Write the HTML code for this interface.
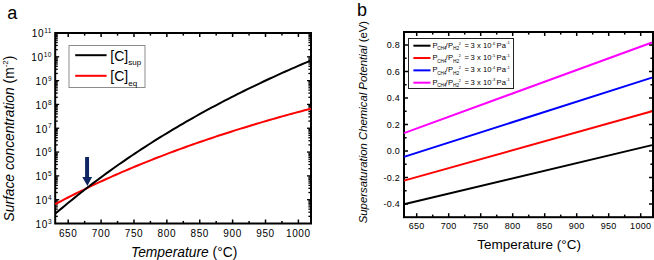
<!DOCTYPE html>
<html><head><meta charset="utf-8"><style>
html,body{margin:0;padding:0;background:#fff;width:654px;height:260px;overflow:hidden}
svg{display:block}
text{font-family:"Liberation Sans",sans-serif;fill:#000}
.t10{font-size:10px;letter-spacing:0.6px}
.t9{font-size:9px;letter-spacing:0.3px}
.sup{font-size:6.5px}
.leg{font-size:14px}
.sub{font-size:8px}
.lab{font-size:13.8px}
.labx{font-size:13.5px}
.labb{font-size:11.35px}
.it{font-style:italic}
.sup2{font-size:8px}
.panel{font-size:18px}
.l8{font-size:8px}
.s5{font-size:5px}
</style></head><body>
<svg width="654" height="260" viewBox="0 0 654 260">
<line x1="68.20" y1="223.50" x2="68.20" y2="219.50" stroke="#000" stroke-width="1.5"/>
<line x1="68.20" y1="33.00" x2="68.20" y2="37.00" stroke="#000" stroke-width="1.5"/>
<line x1="84.64" y1="223.50" x2="84.64" y2="220.90" stroke="#000" stroke-width="1.5"/>
<line x1="84.64" y1="33.00" x2="84.64" y2="35.60" stroke="#000" stroke-width="1.5"/>
<line x1="101.09" y1="223.50" x2="101.09" y2="219.50" stroke="#000" stroke-width="1.5"/>
<line x1="101.09" y1="33.00" x2="101.09" y2="37.00" stroke="#000" stroke-width="1.5"/>
<line x1="117.53" y1="223.50" x2="117.53" y2="220.90" stroke="#000" stroke-width="1.5"/>
<line x1="117.53" y1="33.00" x2="117.53" y2="35.60" stroke="#000" stroke-width="1.5"/>
<line x1="133.97" y1="223.50" x2="133.97" y2="219.50" stroke="#000" stroke-width="1.5"/>
<line x1="133.97" y1="33.00" x2="133.97" y2="37.00" stroke="#000" stroke-width="1.5"/>
<line x1="150.41" y1="223.50" x2="150.41" y2="220.90" stroke="#000" stroke-width="1.5"/>
<line x1="150.41" y1="33.00" x2="150.41" y2="35.60" stroke="#000" stroke-width="1.5"/>
<line x1="166.85" y1="223.50" x2="166.85" y2="219.50" stroke="#000" stroke-width="1.5"/>
<line x1="166.85" y1="33.00" x2="166.85" y2="37.00" stroke="#000" stroke-width="1.5"/>
<line x1="183.30" y1="223.50" x2="183.30" y2="220.90" stroke="#000" stroke-width="1.5"/>
<line x1="183.30" y1="33.00" x2="183.30" y2="35.60" stroke="#000" stroke-width="1.5"/>
<line x1="199.74" y1="223.50" x2="199.74" y2="219.50" stroke="#000" stroke-width="1.5"/>
<line x1="199.74" y1="33.00" x2="199.74" y2="37.00" stroke="#000" stroke-width="1.5"/>
<line x1="216.18" y1="223.50" x2="216.18" y2="220.90" stroke="#000" stroke-width="1.5"/>
<line x1="216.18" y1="33.00" x2="216.18" y2="35.60" stroke="#000" stroke-width="1.5"/>
<line x1="232.62" y1="223.50" x2="232.62" y2="219.50" stroke="#000" stroke-width="1.5"/>
<line x1="232.62" y1="33.00" x2="232.62" y2="37.00" stroke="#000" stroke-width="1.5"/>
<line x1="249.07" y1="223.50" x2="249.07" y2="220.90" stroke="#000" stroke-width="1.5"/>
<line x1="249.07" y1="33.00" x2="249.07" y2="35.60" stroke="#000" stroke-width="1.5"/>
<line x1="265.51" y1="223.50" x2="265.51" y2="219.50" stroke="#000" stroke-width="1.5"/>
<line x1="265.51" y1="33.00" x2="265.51" y2="37.00" stroke="#000" stroke-width="1.5"/>
<line x1="281.95" y1="223.50" x2="281.95" y2="220.90" stroke="#000" stroke-width="1.5"/>
<line x1="281.95" y1="33.00" x2="281.95" y2="35.60" stroke="#000" stroke-width="1.5"/>
<line x1="298.39" y1="223.50" x2="298.39" y2="219.50" stroke="#000" stroke-width="1.5"/>
<line x1="298.39" y1="33.00" x2="298.39" y2="37.00" stroke="#000" stroke-width="1.5"/>
<line x1="55.20" y1="216.33" x2="57.80" y2="216.33" stroke="#000" stroke-width="1.3"/>
<line x1="311.00" y1="216.33" x2="308.40" y2="216.33" stroke="#000" stroke-width="1.3"/>
<line x1="55.20" y1="212.14" x2="57.80" y2="212.14" stroke="#000" stroke-width="1.3"/>
<line x1="311.00" y1="212.14" x2="308.40" y2="212.14" stroke="#000" stroke-width="1.3"/>
<line x1="55.20" y1="209.16" x2="57.80" y2="209.16" stroke="#000" stroke-width="1.3"/>
<line x1="311.00" y1="209.16" x2="308.40" y2="209.16" stroke="#000" stroke-width="1.3"/>
<line x1="55.20" y1="206.86" x2="57.80" y2="206.86" stroke="#000" stroke-width="1.3"/>
<line x1="311.00" y1="206.86" x2="308.40" y2="206.86" stroke="#000" stroke-width="1.3"/>
<line x1="55.20" y1="204.97" x2="57.80" y2="204.97" stroke="#000" stroke-width="1.3"/>
<line x1="311.00" y1="204.97" x2="308.40" y2="204.97" stroke="#000" stroke-width="1.3"/>
<line x1="55.20" y1="203.38" x2="57.80" y2="203.38" stroke="#000" stroke-width="1.3"/>
<line x1="311.00" y1="203.38" x2="308.40" y2="203.38" stroke="#000" stroke-width="1.3"/>
<line x1="55.20" y1="202.00" x2="57.80" y2="202.00" stroke="#000" stroke-width="1.3"/>
<line x1="311.00" y1="202.00" x2="308.40" y2="202.00" stroke="#000" stroke-width="1.3"/>
<line x1="55.20" y1="200.78" x2="57.80" y2="200.78" stroke="#000" stroke-width="1.3"/>
<line x1="311.00" y1="200.78" x2="308.40" y2="200.78" stroke="#000" stroke-width="1.3"/>
<line x1="55.20" y1="199.69" x2="59.20" y2="199.69" stroke="#000" stroke-width="1.3"/>
<line x1="311.00" y1="199.69" x2="307.00" y2="199.69" stroke="#000" stroke-width="1.3"/>
<line x1="55.20" y1="192.52" x2="57.80" y2="192.52" stroke="#000" stroke-width="1.3"/>
<line x1="311.00" y1="192.52" x2="308.40" y2="192.52" stroke="#000" stroke-width="1.3"/>
<line x1="55.20" y1="188.33" x2="57.80" y2="188.33" stroke="#000" stroke-width="1.3"/>
<line x1="311.00" y1="188.33" x2="308.40" y2="188.33" stroke="#000" stroke-width="1.3"/>
<line x1="55.20" y1="185.35" x2="57.80" y2="185.35" stroke="#000" stroke-width="1.3"/>
<line x1="311.00" y1="185.35" x2="308.40" y2="185.35" stroke="#000" stroke-width="1.3"/>
<line x1="55.20" y1="183.04" x2="57.80" y2="183.04" stroke="#000" stroke-width="1.3"/>
<line x1="311.00" y1="183.04" x2="308.40" y2="183.04" stroke="#000" stroke-width="1.3"/>
<line x1="55.20" y1="181.16" x2="57.80" y2="181.16" stroke="#000" stroke-width="1.3"/>
<line x1="311.00" y1="181.16" x2="308.40" y2="181.16" stroke="#000" stroke-width="1.3"/>
<line x1="55.20" y1="179.56" x2="57.80" y2="179.56" stroke="#000" stroke-width="1.3"/>
<line x1="311.00" y1="179.56" x2="308.40" y2="179.56" stroke="#000" stroke-width="1.3"/>
<line x1="55.20" y1="178.18" x2="57.80" y2="178.18" stroke="#000" stroke-width="1.3"/>
<line x1="311.00" y1="178.18" x2="308.40" y2="178.18" stroke="#000" stroke-width="1.3"/>
<line x1="55.20" y1="176.96" x2="57.80" y2="176.96" stroke="#000" stroke-width="1.3"/>
<line x1="311.00" y1="176.96" x2="308.40" y2="176.96" stroke="#000" stroke-width="1.3"/>
<line x1="55.20" y1="175.88" x2="59.20" y2="175.88" stroke="#000" stroke-width="1.3"/>
<line x1="311.00" y1="175.88" x2="307.00" y2="175.88" stroke="#000" stroke-width="1.3"/>
<line x1="55.20" y1="168.71" x2="57.80" y2="168.71" stroke="#000" stroke-width="1.3"/>
<line x1="311.00" y1="168.71" x2="308.40" y2="168.71" stroke="#000" stroke-width="1.3"/>
<line x1="55.20" y1="164.51" x2="57.80" y2="164.51" stroke="#000" stroke-width="1.3"/>
<line x1="311.00" y1="164.51" x2="308.40" y2="164.51" stroke="#000" stroke-width="1.3"/>
<line x1="55.20" y1="161.54" x2="57.80" y2="161.54" stroke="#000" stroke-width="1.3"/>
<line x1="311.00" y1="161.54" x2="308.40" y2="161.54" stroke="#000" stroke-width="1.3"/>
<line x1="55.20" y1="159.23" x2="57.80" y2="159.23" stroke="#000" stroke-width="1.3"/>
<line x1="311.00" y1="159.23" x2="308.40" y2="159.23" stroke="#000" stroke-width="1.3"/>
<line x1="55.20" y1="157.35" x2="57.80" y2="157.35" stroke="#000" stroke-width="1.3"/>
<line x1="311.00" y1="157.35" x2="308.40" y2="157.35" stroke="#000" stroke-width="1.3"/>
<line x1="55.20" y1="155.75" x2="57.80" y2="155.75" stroke="#000" stroke-width="1.3"/>
<line x1="311.00" y1="155.75" x2="308.40" y2="155.75" stroke="#000" stroke-width="1.3"/>
<line x1="55.20" y1="154.37" x2="57.80" y2="154.37" stroke="#000" stroke-width="1.3"/>
<line x1="311.00" y1="154.37" x2="308.40" y2="154.37" stroke="#000" stroke-width="1.3"/>
<line x1="55.20" y1="153.15" x2="57.80" y2="153.15" stroke="#000" stroke-width="1.3"/>
<line x1="311.00" y1="153.15" x2="308.40" y2="153.15" stroke="#000" stroke-width="1.3"/>
<line x1="55.20" y1="152.06" x2="59.20" y2="152.06" stroke="#000" stroke-width="1.3"/>
<line x1="311.00" y1="152.06" x2="307.00" y2="152.06" stroke="#000" stroke-width="1.3"/>
<line x1="55.20" y1="144.89" x2="57.80" y2="144.89" stroke="#000" stroke-width="1.3"/>
<line x1="311.00" y1="144.89" x2="308.40" y2="144.89" stroke="#000" stroke-width="1.3"/>
<line x1="55.20" y1="140.70" x2="57.80" y2="140.70" stroke="#000" stroke-width="1.3"/>
<line x1="311.00" y1="140.70" x2="308.40" y2="140.70" stroke="#000" stroke-width="1.3"/>
<line x1="55.20" y1="137.73" x2="57.80" y2="137.73" stroke="#000" stroke-width="1.3"/>
<line x1="311.00" y1="137.73" x2="308.40" y2="137.73" stroke="#000" stroke-width="1.3"/>
<line x1="55.20" y1="135.42" x2="57.80" y2="135.42" stroke="#000" stroke-width="1.3"/>
<line x1="311.00" y1="135.42" x2="308.40" y2="135.42" stroke="#000" stroke-width="1.3"/>
<line x1="55.20" y1="133.53" x2="57.80" y2="133.53" stroke="#000" stroke-width="1.3"/>
<line x1="311.00" y1="133.53" x2="308.40" y2="133.53" stroke="#000" stroke-width="1.3"/>
<line x1="55.20" y1="131.94" x2="57.80" y2="131.94" stroke="#000" stroke-width="1.3"/>
<line x1="311.00" y1="131.94" x2="308.40" y2="131.94" stroke="#000" stroke-width="1.3"/>
<line x1="55.20" y1="130.56" x2="57.80" y2="130.56" stroke="#000" stroke-width="1.3"/>
<line x1="311.00" y1="130.56" x2="308.40" y2="130.56" stroke="#000" stroke-width="1.3"/>
<line x1="55.20" y1="129.34" x2="57.80" y2="129.34" stroke="#000" stroke-width="1.3"/>
<line x1="311.00" y1="129.34" x2="308.40" y2="129.34" stroke="#000" stroke-width="1.3"/>
<line x1="55.20" y1="128.25" x2="59.20" y2="128.25" stroke="#000" stroke-width="1.3"/>
<line x1="311.00" y1="128.25" x2="307.00" y2="128.25" stroke="#000" stroke-width="1.3"/>
<line x1="55.20" y1="121.08" x2="57.80" y2="121.08" stroke="#000" stroke-width="1.3"/>
<line x1="311.00" y1="121.08" x2="308.40" y2="121.08" stroke="#000" stroke-width="1.3"/>
<line x1="55.20" y1="116.89" x2="57.80" y2="116.89" stroke="#000" stroke-width="1.3"/>
<line x1="311.00" y1="116.89" x2="308.40" y2="116.89" stroke="#000" stroke-width="1.3"/>
<line x1="55.20" y1="113.91" x2="57.80" y2="113.91" stroke="#000" stroke-width="1.3"/>
<line x1="311.00" y1="113.91" x2="308.40" y2="113.91" stroke="#000" stroke-width="1.3"/>
<line x1="55.20" y1="111.61" x2="57.80" y2="111.61" stroke="#000" stroke-width="1.3"/>
<line x1="311.00" y1="111.61" x2="308.40" y2="111.61" stroke="#000" stroke-width="1.3"/>
<line x1="55.20" y1="109.72" x2="57.80" y2="109.72" stroke="#000" stroke-width="1.3"/>
<line x1="311.00" y1="109.72" x2="308.40" y2="109.72" stroke="#000" stroke-width="1.3"/>
<line x1="55.20" y1="108.13" x2="57.80" y2="108.13" stroke="#000" stroke-width="1.3"/>
<line x1="311.00" y1="108.13" x2="308.40" y2="108.13" stroke="#000" stroke-width="1.3"/>
<line x1="55.20" y1="106.75" x2="57.80" y2="106.75" stroke="#000" stroke-width="1.3"/>
<line x1="311.00" y1="106.75" x2="308.40" y2="106.75" stroke="#000" stroke-width="1.3"/>
<line x1="55.20" y1="105.53" x2="57.80" y2="105.53" stroke="#000" stroke-width="1.3"/>
<line x1="311.00" y1="105.53" x2="308.40" y2="105.53" stroke="#000" stroke-width="1.3"/>
<line x1="55.20" y1="104.44" x2="59.20" y2="104.44" stroke="#000" stroke-width="1.3"/>
<line x1="311.00" y1="104.44" x2="307.00" y2="104.44" stroke="#000" stroke-width="1.3"/>
<line x1="55.20" y1="97.27" x2="57.80" y2="97.27" stroke="#000" stroke-width="1.3"/>
<line x1="311.00" y1="97.27" x2="308.40" y2="97.27" stroke="#000" stroke-width="1.3"/>
<line x1="55.20" y1="93.08" x2="57.80" y2="93.08" stroke="#000" stroke-width="1.3"/>
<line x1="311.00" y1="93.08" x2="308.40" y2="93.08" stroke="#000" stroke-width="1.3"/>
<line x1="55.20" y1="90.10" x2="57.80" y2="90.10" stroke="#000" stroke-width="1.3"/>
<line x1="311.00" y1="90.10" x2="308.40" y2="90.10" stroke="#000" stroke-width="1.3"/>
<line x1="55.20" y1="87.79" x2="57.80" y2="87.79" stroke="#000" stroke-width="1.3"/>
<line x1="311.00" y1="87.79" x2="308.40" y2="87.79" stroke="#000" stroke-width="1.3"/>
<line x1="55.20" y1="85.91" x2="57.80" y2="85.91" stroke="#000" stroke-width="1.3"/>
<line x1="311.00" y1="85.91" x2="308.40" y2="85.91" stroke="#000" stroke-width="1.3"/>
<line x1="55.20" y1="84.31" x2="57.80" y2="84.31" stroke="#000" stroke-width="1.3"/>
<line x1="311.00" y1="84.31" x2="308.40" y2="84.31" stroke="#000" stroke-width="1.3"/>
<line x1="55.20" y1="82.93" x2="57.80" y2="82.93" stroke="#000" stroke-width="1.3"/>
<line x1="311.00" y1="82.93" x2="308.40" y2="82.93" stroke="#000" stroke-width="1.3"/>
<line x1="55.20" y1="81.71" x2="57.80" y2="81.71" stroke="#000" stroke-width="1.3"/>
<line x1="311.00" y1="81.71" x2="308.40" y2="81.71" stroke="#000" stroke-width="1.3"/>
<line x1="55.20" y1="80.62" x2="59.20" y2="80.62" stroke="#000" stroke-width="1.3"/>
<line x1="311.00" y1="80.62" x2="307.00" y2="80.62" stroke="#000" stroke-width="1.3"/>
<line x1="55.20" y1="73.46" x2="57.80" y2="73.46" stroke="#000" stroke-width="1.3"/>
<line x1="311.00" y1="73.46" x2="308.40" y2="73.46" stroke="#000" stroke-width="1.3"/>
<line x1="55.20" y1="69.26" x2="57.80" y2="69.26" stroke="#000" stroke-width="1.3"/>
<line x1="311.00" y1="69.26" x2="308.40" y2="69.26" stroke="#000" stroke-width="1.3"/>
<line x1="55.20" y1="66.29" x2="57.80" y2="66.29" stroke="#000" stroke-width="1.3"/>
<line x1="311.00" y1="66.29" x2="308.40" y2="66.29" stroke="#000" stroke-width="1.3"/>
<line x1="55.20" y1="63.98" x2="57.80" y2="63.98" stroke="#000" stroke-width="1.3"/>
<line x1="311.00" y1="63.98" x2="308.40" y2="63.98" stroke="#000" stroke-width="1.3"/>
<line x1="55.20" y1="62.10" x2="57.80" y2="62.10" stroke="#000" stroke-width="1.3"/>
<line x1="311.00" y1="62.10" x2="308.40" y2="62.10" stroke="#000" stroke-width="1.3"/>
<line x1="55.20" y1="60.50" x2="57.80" y2="60.50" stroke="#000" stroke-width="1.3"/>
<line x1="311.00" y1="60.50" x2="308.40" y2="60.50" stroke="#000" stroke-width="1.3"/>
<line x1="55.20" y1="59.12" x2="57.80" y2="59.12" stroke="#000" stroke-width="1.3"/>
<line x1="311.00" y1="59.12" x2="308.40" y2="59.12" stroke="#000" stroke-width="1.3"/>
<line x1="55.20" y1="57.90" x2="57.80" y2="57.90" stroke="#000" stroke-width="1.3"/>
<line x1="311.00" y1="57.90" x2="308.40" y2="57.90" stroke="#000" stroke-width="1.3"/>
<line x1="55.20" y1="56.81" x2="59.20" y2="56.81" stroke="#000" stroke-width="1.3"/>
<line x1="311.00" y1="56.81" x2="307.00" y2="56.81" stroke="#000" stroke-width="1.3"/>
<line x1="55.20" y1="49.64" x2="57.80" y2="49.64" stroke="#000" stroke-width="1.3"/>
<line x1="311.00" y1="49.64" x2="308.40" y2="49.64" stroke="#000" stroke-width="1.3"/>
<line x1="55.20" y1="45.45" x2="57.80" y2="45.45" stroke="#000" stroke-width="1.3"/>
<line x1="311.00" y1="45.45" x2="308.40" y2="45.45" stroke="#000" stroke-width="1.3"/>
<line x1="55.20" y1="42.48" x2="57.80" y2="42.48" stroke="#000" stroke-width="1.3"/>
<line x1="311.00" y1="42.48" x2="308.40" y2="42.48" stroke="#000" stroke-width="1.3"/>
<line x1="55.20" y1="40.17" x2="57.80" y2="40.17" stroke="#000" stroke-width="1.3"/>
<line x1="311.00" y1="40.17" x2="308.40" y2="40.17" stroke="#000" stroke-width="1.3"/>
<line x1="55.20" y1="38.28" x2="57.80" y2="38.28" stroke="#000" stroke-width="1.3"/>
<line x1="311.00" y1="38.28" x2="308.40" y2="38.28" stroke="#000" stroke-width="1.3"/>
<line x1="55.20" y1="36.69" x2="57.80" y2="36.69" stroke="#000" stroke-width="1.3"/>
<line x1="311.00" y1="36.69" x2="308.40" y2="36.69" stroke="#000" stroke-width="1.3"/>
<line x1="55.20" y1="35.31" x2="57.80" y2="35.31" stroke="#000" stroke-width="1.3"/>
<line x1="311.00" y1="35.31" x2="308.40" y2="35.31" stroke="#000" stroke-width="1.3"/>
<line x1="55.20" y1="34.09" x2="57.80" y2="34.09" stroke="#000" stroke-width="1.3"/>
<line x1="311.00" y1="34.09" x2="308.40" y2="34.09" stroke="#000" stroke-width="1.3"/>
<rect x="55.2" y="33.0" width="255.8" height="190.5" fill="none" stroke="#000" stroke-width="2"/>
<polyline points="55.20,204.20 58.40,202.50 61.60,200.81 64.79,199.15 67.99,197.50 71.19,195.88 74.39,194.26 77.58,192.67 80.78,191.09 83.98,189.53 87.18,187.98 90.37,186.45 93.57,184.93 96.77,183.43 99.97,181.95 103.16,180.48 106.36,179.02 109.56,177.58 112.76,176.15 115.95,174.74 119.15,173.34 122.35,171.95 125.55,170.58 128.74,169.22 131.94,167.88 135.14,166.54 138.34,165.22 141.53,163.91 144.73,162.62 147.93,161.33 151.12,160.06 154.32,158.80 157.52,157.55 160.72,156.31 163.92,155.08 167.11,153.87 170.31,152.66 173.51,151.47 176.70,150.29 179.90,149.11 183.10,147.95 186.30,146.80 189.50,145.66 192.69,144.53 195.89,143.40 199.09,142.29 202.29,141.19 205.48,140.10 208.68,139.01 211.88,137.94 215.07,136.87 218.27,135.82 221.47,134.77 224.67,133.73 227.87,132.70 231.06,131.68 234.26,130.66 237.46,129.66 240.66,128.66 243.85,127.67 247.05,126.69 250.25,125.72 253.44,124.76 256.64,123.80 259.84,122.85 263.04,121.91 266.24,120.97 269.43,120.05 272.63,119.13 275.83,118.22 279.02,117.31 282.22,116.41 285.42,115.52 288.62,114.64 291.81,113.76 295.01,112.89 298.21,112.03 301.41,111.17 304.61,110.32 307.80,109.47 311.00,108.63" fill="none" stroke="#ff0000" stroke-width="2"/>
<polyline points="55.20,213.78 58.40,211.05 61.60,208.36 64.79,205.69 67.99,203.05 71.19,200.43 74.39,197.85 77.58,195.29 80.78,192.75 83.98,190.25 87.18,187.77 90.37,185.31 93.57,182.88 96.77,180.47 99.97,178.09 103.16,175.73 106.36,173.40 109.56,171.08 112.76,168.79 115.95,166.53 119.15,164.28 122.35,162.06 125.55,159.85 128.74,157.67 131.94,155.51 135.14,153.37 138.34,151.25 141.53,149.15 144.73,147.07 147.93,145.01 151.12,142.97 154.32,140.95 157.52,138.94 160.72,136.96 163.92,134.99 167.11,133.04 170.31,131.11 173.51,129.19 176.70,127.29 179.90,125.41 183.10,123.55 186.30,121.70 189.50,119.87 192.69,118.05 195.89,116.25 199.09,114.47 202.29,112.70 205.48,110.95 208.68,109.21 211.88,107.48 215.07,105.77 218.27,104.08 221.47,102.40 224.67,100.73 227.87,99.08 231.06,97.44 234.26,95.82 237.46,94.20 240.66,92.60 243.85,91.02 247.05,89.45 250.25,87.89 253.44,86.34 256.64,84.80 259.84,83.28 263.04,81.77 266.24,80.27 269.43,78.78 272.63,77.31 275.83,75.85 279.02,74.39 282.22,72.95 285.42,71.52 288.62,70.11 291.81,68.70 295.01,67.30 298.21,65.91 301.41,64.54 304.61,63.17 307.80,61.82 311.00,60.47" fill="none" stroke="#000000" stroke-width="2"/>
<text x="68.20" y="237" class="t10" text-anchor="middle">650</text>
<text x="101.09" y="237" class="t10" text-anchor="middle">700</text>
<text x="133.97" y="237" class="t10" text-anchor="middle">750</text>
<text x="166.85" y="237" class="t10" text-anchor="middle">800</text>
<text x="199.74" y="237" class="t10" text-anchor="middle">850</text>
<text x="232.62" y="237" class="t10" text-anchor="middle">900</text>
<text x="265.51" y="237" class="t10" text-anchor="middle">950</text>
<text x="298.39" y="237" class="t10" text-anchor="middle">1000</text>
<text x="52.1" y="227.80" class="t10" text-anchor="end">10<tspan class="sup" dy="-4.2">3</tspan></text>
<text x="52.1" y="203.99" class="t10" text-anchor="end">10<tspan class="sup" dy="-4.2">4</tspan></text>
<text x="52.1" y="180.18" class="t10" text-anchor="end">10<tspan class="sup" dy="-4.2">5</tspan></text>
<text x="52.1" y="156.36" class="t10" text-anchor="end">10<tspan class="sup" dy="-4.2">6</tspan></text>
<text x="52.1" y="132.55" class="t10" text-anchor="end">10<tspan class="sup" dy="-4.2">7</tspan></text>
<text x="52.1" y="108.74" class="t10" text-anchor="end">10<tspan class="sup" dy="-4.2">8</tspan></text>
<text x="52.1" y="84.92" class="t10" text-anchor="end">10<tspan class="sup" dy="-4.2">9</tspan></text>
<text x="52.1" y="61.11" class="t10" text-anchor="end">10<tspan class="sup" dy="-4.2">10</tspan></text>
<text x="52.1" y="37.30" class="t10" text-anchor="end">10<tspan class="sup" dy="-4.2">11</tspan></text>
<rect x="69" y="45.5" width="76" height="42" fill="#fff" stroke="#8c8c8c" stroke-width="1"/>
<line x1="75.20" y1="55.20" x2="106.60" y2="55.20" stroke="#000" stroke-width="2"/>
<line x1="75.20" y1="75.80" x2="106.60" y2="75.80" stroke="#ff0000" stroke-width="2"/>
<text x="110.3" y="60.7" class="leg">[C]<tspan class="sub" dy="4.4">sup</tspan></text>
<text x="110.3" y="81.0" class="leg">[C]<tspan class="sub" dy="4.6">eq</tspan></text>
<path d="M85.1,156.9 H89.05 V176.9 H92.1 L87.4,186 L82.3,176.9 H85.1 Z" fill="#0f2663"/>
<text x="131" y="256.6" class="lab"><tspan class="it">Temperature </tspan>(°C)</text>
<text transform="translate(14,221.5) rotate(-90)" class="lab"><tspan class="it">Surface concentration </tspan>(m<tspan class="sup2" dy="-6">-2</tspan><tspan dy="6">)</tspan></text>
<text x="7.3" y="19.4" class="panel">a</text>
<line x1="416.70" y1="217.20" x2="416.70" y2="213.20" stroke="#000" stroke-width="1.5"/>
<line x1="416.70" y1="32.00" x2="416.70" y2="36.00" stroke="#000" stroke-width="1.5"/>
<line x1="432.70" y1="217.20" x2="432.70" y2="214.60" stroke="#000" stroke-width="1.5"/>
<line x1="432.70" y1="32.00" x2="432.70" y2="34.60" stroke="#000" stroke-width="1.5"/>
<line x1="448.70" y1="217.20" x2="448.70" y2="213.20" stroke="#000" stroke-width="1.5"/>
<line x1="448.70" y1="32.00" x2="448.70" y2="36.00" stroke="#000" stroke-width="1.5"/>
<line x1="464.70" y1="217.20" x2="464.70" y2="214.60" stroke="#000" stroke-width="1.5"/>
<line x1="464.70" y1="32.00" x2="464.70" y2="34.60" stroke="#000" stroke-width="1.5"/>
<line x1="480.70" y1="217.20" x2="480.70" y2="213.20" stroke="#000" stroke-width="1.5"/>
<line x1="480.70" y1="32.00" x2="480.70" y2="36.00" stroke="#000" stroke-width="1.5"/>
<line x1="496.70" y1="217.20" x2="496.70" y2="214.60" stroke="#000" stroke-width="1.5"/>
<line x1="496.70" y1="32.00" x2="496.70" y2="34.60" stroke="#000" stroke-width="1.5"/>
<line x1="512.70" y1="217.20" x2="512.70" y2="213.20" stroke="#000" stroke-width="1.5"/>
<line x1="512.70" y1="32.00" x2="512.70" y2="36.00" stroke="#000" stroke-width="1.5"/>
<line x1="528.70" y1="217.20" x2="528.70" y2="214.60" stroke="#000" stroke-width="1.5"/>
<line x1="528.70" y1="32.00" x2="528.70" y2="34.60" stroke="#000" stroke-width="1.5"/>
<line x1="544.70" y1="217.20" x2="544.70" y2="213.20" stroke="#000" stroke-width="1.5"/>
<line x1="544.70" y1="32.00" x2="544.70" y2="36.00" stroke="#000" stroke-width="1.5"/>
<line x1="560.70" y1="217.20" x2="560.70" y2="214.60" stroke="#000" stroke-width="1.5"/>
<line x1="560.70" y1="32.00" x2="560.70" y2="34.60" stroke="#000" stroke-width="1.5"/>
<line x1="576.70" y1="217.20" x2="576.70" y2="213.20" stroke="#000" stroke-width="1.5"/>
<line x1="576.70" y1="32.00" x2="576.70" y2="36.00" stroke="#000" stroke-width="1.5"/>
<line x1="592.70" y1="217.20" x2="592.70" y2="214.60" stroke="#000" stroke-width="1.5"/>
<line x1="592.70" y1="32.00" x2="592.70" y2="34.60" stroke="#000" stroke-width="1.5"/>
<line x1="608.70" y1="217.20" x2="608.70" y2="213.20" stroke="#000" stroke-width="1.5"/>
<line x1="608.70" y1="32.00" x2="608.70" y2="36.00" stroke="#000" stroke-width="1.5"/>
<line x1="624.70" y1="217.20" x2="624.70" y2="214.60" stroke="#000" stroke-width="1.5"/>
<line x1="624.70" y1="32.00" x2="624.70" y2="34.60" stroke="#000" stroke-width="1.5"/>
<line x1="640.70" y1="217.20" x2="640.70" y2="213.20" stroke="#000" stroke-width="1.5"/>
<line x1="640.70" y1="32.00" x2="640.70" y2="36.00" stroke="#000" stroke-width="1.5"/>
<line x1="404.00" y1="204.00" x2="408.00" y2="204.00" stroke="#000" stroke-width="1.5"/>
<line x1="653.00" y1="204.00" x2="649.00" y2="204.00" stroke="#000" stroke-width="1.5"/>
<line x1="404.00" y1="190.75" x2="406.60" y2="190.75" stroke="#000" stroke-width="1.5"/>
<line x1="653.00" y1="190.75" x2="650.40" y2="190.75" stroke="#000" stroke-width="1.5"/>
<line x1="404.00" y1="177.50" x2="408.00" y2="177.50" stroke="#000" stroke-width="1.5"/>
<line x1="653.00" y1="177.50" x2="649.00" y2="177.50" stroke="#000" stroke-width="1.5"/>
<line x1="404.00" y1="164.25" x2="406.60" y2="164.25" stroke="#000" stroke-width="1.5"/>
<line x1="653.00" y1="164.25" x2="650.40" y2="164.25" stroke="#000" stroke-width="1.5"/>
<line x1="404.00" y1="151.00" x2="408.00" y2="151.00" stroke="#000" stroke-width="1.5"/>
<line x1="653.00" y1="151.00" x2="649.00" y2="151.00" stroke="#000" stroke-width="1.5"/>
<line x1="404.00" y1="137.75" x2="406.60" y2="137.75" stroke="#000" stroke-width="1.5"/>
<line x1="653.00" y1="137.75" x2="650.40" y2="137.75" stroke="#000" stroke-width="1.5"/>
<line x1="404.00" y1="124.50" x2="408.00" y2="124.50" stroke="#000" stroke-width="1.5"/>
<line x1="653.00" y1="124.50" x2="649.00" y2="124.50" stroke="#000" stroke-width="1.5"/>
<line x1="404.00" y1="111.25" x2="406.60" y2="111.25" stroke="#000" stroke-width="1.5"/>
<line x1="653.00" y1="111.25" x2="650.40" y2="111.25" stroke="#000" stroke-width="1.5"/>
<line x1="404.00" y1="98.00" x2="408.00" y2="98.00" stroke="#000" stroke-width="1.5"/>
<line x1="653.00" y1="98.00" x2="649.00" y2="98.00" stroke="#000" stroke-width="1.5"/>
<line x1="404.00" y1="84.75" x2="406.60" y2="84.75" stroke="#000" stroke-width="1.5"/>
<line x1="653.00" y1="84.75" x2="650.40" y2="84.75" stroke="#000" stroke-width="1.5"/>
<line x1="404.00" y1="71.50" x2="408.00" y2="71.50" stroke="#000" stroke-width="1.5"/>
<line x1="653.00" y1="71.50" x2="649.00" y2="71.50" stroke="#000" stroke-width="1.5"/>
<line x1="404.00" y1="58.25" x2="406.60" y2="58.25" stroke="#000" stroke-width="1.5"/>
<line x1="653.00" y1="58.25" x2="650.40" y2="58.25" stroke="#000" stroke-width="1.5"/>
<line x1="404.00" y1="45.00" x2="408.00" y2="45.00" stroke="#000" stroke-width="1.5"/>
<line x1="653.00" y1="45.00" x2="649.00" y2="45.00" stroke="#000" stroke-width="1.5"/>
<rect x="404.0" y="32.0" width="249.0" height="185.2" fill="none" stroke="#000" stroke-width="2"/>
<line x1="404.00" y1="204.30" x2="652.00" y2="145.10" stroke="#000000" stroke-width="2"/>
<line x1="404.00" y1="180.60" x2="652.00" y2="111.20" stroke="#ff0000" stroke-width="2"/>
<line x1="404.00" y1="156.90" x2="652.00" y2="77.60" stroke="#0000ff" stroke-width="2"/>
<line x1="404.00" y1="133.10" x2="652.00" y2="42.50" stroke="#ff00ff" stroke-width="2"/>
<text x="416.70" y="229" class="t9" text-anchor="middle">650</text>
<text x="448.70" y="229" class="t9" text-anchor="middle">700</text>
<text x="480.70" y="229" class="t9" text-anchor="middle">750</text>
<text x="512.70" y="229" class="t9" text-anchor="middle">800</text>
<text x="544.70" y="229" class="t9" text-anchor="middle">850</text>
<text x="576.70" y="229" class="t9" text-anchor="middle">900</text>
<text x="608.70" y="229" class="t9" text-anchor="middle">950</text>
<text x="640.70" y="229" class="t9" text-anchor="middle">1000</text>
<text x="400.2" y="207.20" class="t9" text-anchor="end">-0.4</text>
<text x="400.2" y="180.70" class="t9" text-anchor="end">-0.2</text>
<text x="400.2" y="154.20" class="t9" text-anchor="end">0.0</text>
<text x="400.2" y="127.70" class="t9" text-anchor="end">0.2</text>
<text x="400.2" y="101.20" class="t9" text-anchor="end">0.4</text>
<text x="400.2" y="74.70" class="t9" text-anchor="end">0.6</text>
<text x="400.2" y="48.20" class="t9" text-anchor="end">0.8</text>
<rect x="408.5" y="38.5" width="105" height="50" fill="#fff" stroke="#222" stroke-width="1"/>
<line x1="413.40" y1="45.70" x2="430.50" y2="45.70" stroke="#000000" stroke-width="2"/>
<text x="432.40" y="47.70" style="font-size:7.6px">P</text>
<text x="437.20" y="50.30" style="font-size:4.6px">CH4</text>
<text x="445.40" y="47.70" style="font-size:7.6px">/</text>
<text x="447.90" y="47.70" style="font-size:7.6px">P</text>
<text x="452.90" y="50.30" style="font-size:4.9px">H2</text>
<text x="458.70" y="44.80" style="font-size:3.8px">2</text>
<text x="464.40" y="47.70" style="font-size:7.6px">=</text>
<text x="470.40" y="47.70" style="font-size:7.6px">3</text>
<text x="477.00" y="47.70" style="font-size:7.6px">x</text>
<text x="483.00" y="47.70" style="font-size:7.6px">10</text>
<text x="491.60" y="44.50" style="font-size:4.0px">-6</text>
<text x="496.60" y="47.70" style="font-size:7.6px">Pa</text>
<text x="506.20" y="44.40" style="font-size:4.0px">-1</text>
<line x1="413.40" y1="58.03" x2="430.50" y2="58.03" stroke="#ff0000" stroke-width="2"/>
<text x="432.40" y="60.03" style="font-size:7.6px">P</text>
<text x="437.20" y="62.63" style="font-size:4.6px">CH4</text>
<text x="445.40" y="60.03" style="font-size:7.6px">/</text>
<text x="447.90" y="60.03" style="font-size:7.6px">P</text>
<text x="452.90" y="62.63" style="font-size:4.9px">H2</text>
<text x="458.70" y="57.13" style="font-size:3.8px">2</text>
<text x="464.40" y="60.03" style="font-size:7.6px">=</text>
<text x="470.40" y="60.03" style="font-size:7.6px">3</text>
<text x="477.00" y="60.03" style="font-size:7.6px">x</text>
<text x="483.00" y="60.03" style="font-size:7.6px">10</text>
<text x="491.60" y="56.83" style="font-size:4.0px">-5</text>
<text x="496.60" y="60.03" style="font-size:7.6px">Pa</text>
<text x="506.20" y="56.73" style="font-size:4.0px">-1</text>
<line x1="413.40" y1="70.36" x2="430.50" y2="70.36" stroke="#0000ff" stroke-width="2"/>
<text x="432.40" y="72.36" style="font-size:7.6px">P</text>
<text x="437.20" y="74.96" style="font-size:4.6px">CH4</text>
<text x="445.40" y="72.36" style="font-size:7.6px">/</text>
<text x="447.90" y="72.36" style="font-size:7.6px">P</text>
<text x="452.90" y="74.96" style="font-size:4.9px">H2</text>
<text x="458.70" y="69.46" style="font-size:3.8px">2</text>
<text x="464.40" y="72.36" style="font-size:7.6px">=</text>
<text x="470.40" y="72.36" style="font-size:7.6px">3</text>
<text x="477.00" y="72.36" style="font-size:7.6px">x</text>
<text x="483.00" y="72.36" style="font-size:7.6px">10</text>
<text x="491.60" y="69.16" style="font-size:4.0px">-4</text>
<text x="496.60" y="72.36" style="font-size:7.6px">Pa</text>
<text x="506.20" y="69.06" style="font-size:4.0px">-1</text>
<line x1="413.40" y1="82.69" x2="430.50" y2="82.69" stroke="#ff00ff" stroke-width="2"/>
<text x="432.40" y="84.69" style="font-size:7.6px">P</text>
<text x="437.20" y="87.29" style="font-size:4.6px">CH4</text>
<text x="445.40" y="84.69" style="font-size:7.6px">/</text>
<text x="447.90" y="84.69" style="font-size:7.6px">P</text>
<text x="452.90" y="87.29" style="font-size:4.9px">H2</text>
<text x="458.70" y="81.79" style="font-size:3.8px">2</text>
<text x="464.40" y="84.69" style="font-size:7.6px">=</text>
<text x="470.40" y="84.69" style="font-size:7.6px">3</text>
<text x="477.00" y="84.69" style="font-size:7.6px">x</text>
<text x="483.00" y="84.69" style="font-size:7.6px">10</text>
<text x="491.60" y="81.49" style="font-size:4.0px">-3</text>
<text x="496.60" y="84.69" style="font-size:7.6px">Pa</text>
<text x="506.20" y="81.39" style="font-size:4.0px">-1</text>
<text x="477.3" y="248.6" class="labx">Temperature (°C)</text>
<text transform="translate(367,223.3) rotate(-90)" class="labb"><tspan class="it">Supersaturation Chemical Potential </tspan>(eV)</text>
<text x="357" y="15.5" class="panel">b</text>
</svg>
</body></html>
